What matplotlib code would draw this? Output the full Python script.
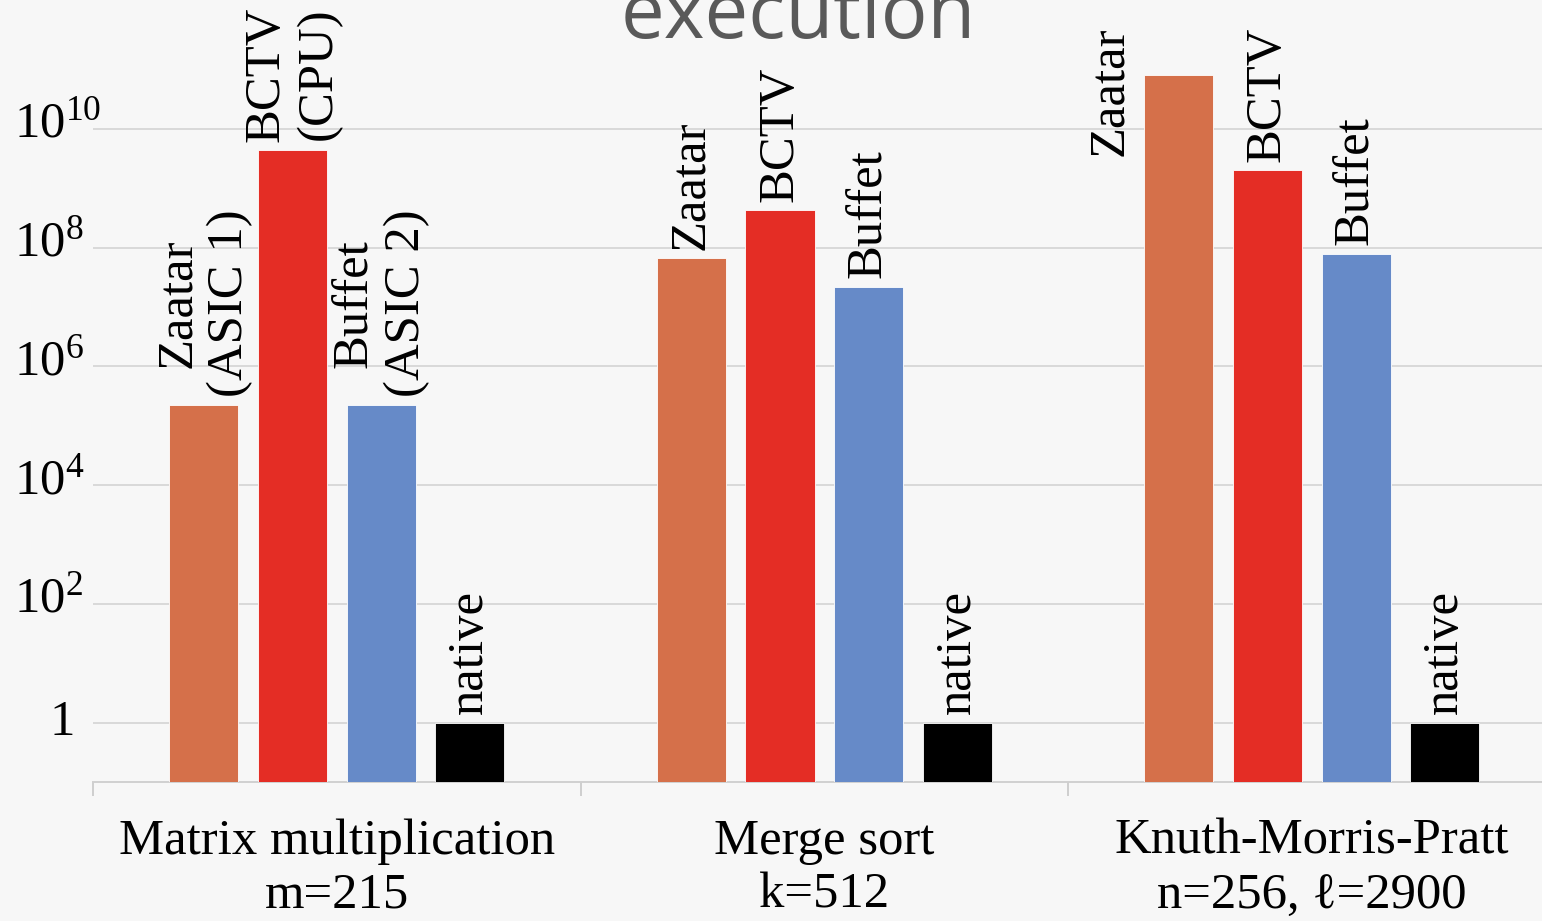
import numpy as np
import matplotlib.pyplot as plt

# data (log scale, relative cost)
categories = ["Matrix multiplication\nm=215", "Merge sort\nk=512",
              "Knuth-Morris-Pratt\nn=256, \u2113=2900"]
series_names = ["Zaatar", "BCTV", "Buffet", "native"]
first_group_labels = ["Zaatar\n(ASIC 1)", "BCTV\n(CPU)", "Buffet\n(ASIC 2)", "native"]
zaatar = [2.2e5, 6.7e7, 8.1e10]
bctv = [4.4e9, 4.3e8, 2.0e9]
buffet = [2.2e5, 2.2e7, 7.9e7]
native = [1, 1, 1]
tick_exponents = [0, 2, 4, 6, 8, 10]

colors = ["#D5704A", "#E42D25", "#668AC8", "#000000"]
bg = "#F7F7F7"
serif = ["Liberation Serif", "DejaVu Serif"]
fs = 36.5

plt.rcParams["mathtext.default"] = "regular"
plt.rcParams["font.family"] = serif

fig = plt.figure(figsize=(15.42, 9.21), dpi=100, facecolor=bg)
ax = fig.add_axes([93 / 1542, 139 / 921, 1462.5 / 1542, 772 / 921])
ax.set_facecolor(bg)

x = np.arange(len(categories))
step = 0.182
width = 0.142
values = [zaatar, bctv, buffet, native]
for i, (name, vals, col) in enumerate(zip(series_names, values, colors)):
    pos = x + (i - 1.5) * step
    ax.bar(pos, vals, width, color=col, edgecolor="white", linewidth=0.6,
           zorder=3)
    for j, (p, v) in enumerate(zip(pos, vals)):
        label = first_group_labels[i] if j == 0 else name
        if v > 3e10:
            # no room above the bar -> put the label beside it
            ax.annotate(label, xy=(p - width / 2, 1), xycoords=("data", "axes fraction"),
                        xytext=(-8, -12), textcoords="offset points",
                        rotation=90, ha="right", va="top", fontsize=fs,
                        linespacing=1.15)
        else:
            ax.annotate(label, xy=(p, v), xytext=(0, 6), textcoords="offset points",
                        rotation=90, ha="center", va="bottom", fontsize=fs,
                        linespacing=1.15)

ax.set_yscale("log")
ax.set_ylim(1e-1, 1e12)
ax.set_xlim(-0.5, 2.5)

ax.set_yticks([10.0 ** e for e in tick_exponents])
ax.set_yticklabels([])
ax.yaxis.set_minor_locator(plt.NullLocator())
ax.tick_params(axis="y", length=0)
ax.grid(axis="y", color="#D9D9D9", linewidth=1.4, zorder=0)

for e in tick_exponents:
    if e == 0:
        ax.annotate("1", xy=(0, 1), xycoords=("axes fraction", "data"),
                    xytext=(-13, 0), textcoords="offset points",
                    ha="right", va="center", fontsize=fs)
    else:
        ax.annotate(f"$10^{{{e}}}$", xy=(0, 10.0 ** e), xycoords=("axes fraction", "data"),
                    xytext=(-57, 3), textcoords="offset points",
                    ha="left", va="center", fontsize=fs)

ax.set_xticks(x)
ax.set_xticklabels(categories, fontsize=fs, linespacing=1.22)
ax.set_xticks([-0.5, 0.5, 1.5, 2.5], minor=True)
ax.tick_params(axis="x", which="major", length=0, pad=26)
ax.tick_params(axis="x", which="minor", length=10, width=1.2, color="#C8C8C8")

for s in ["left", "right", "top"]:
    ax.spines[s].set_visible(False)
ax.spines["bottom"].set_color("#D0D0D0")
ax.spines["bottom"].set_linewidth(1.4)

fig.text(798 / 1542, 1 - 38 / 921, "execution", ha="center", va="baseline",
         fontsize=56, color="#595959", family=["Open Sans", "DejaVu Sans"])

fig.savefig("out.png", dpi=100, facecolor=bg)
